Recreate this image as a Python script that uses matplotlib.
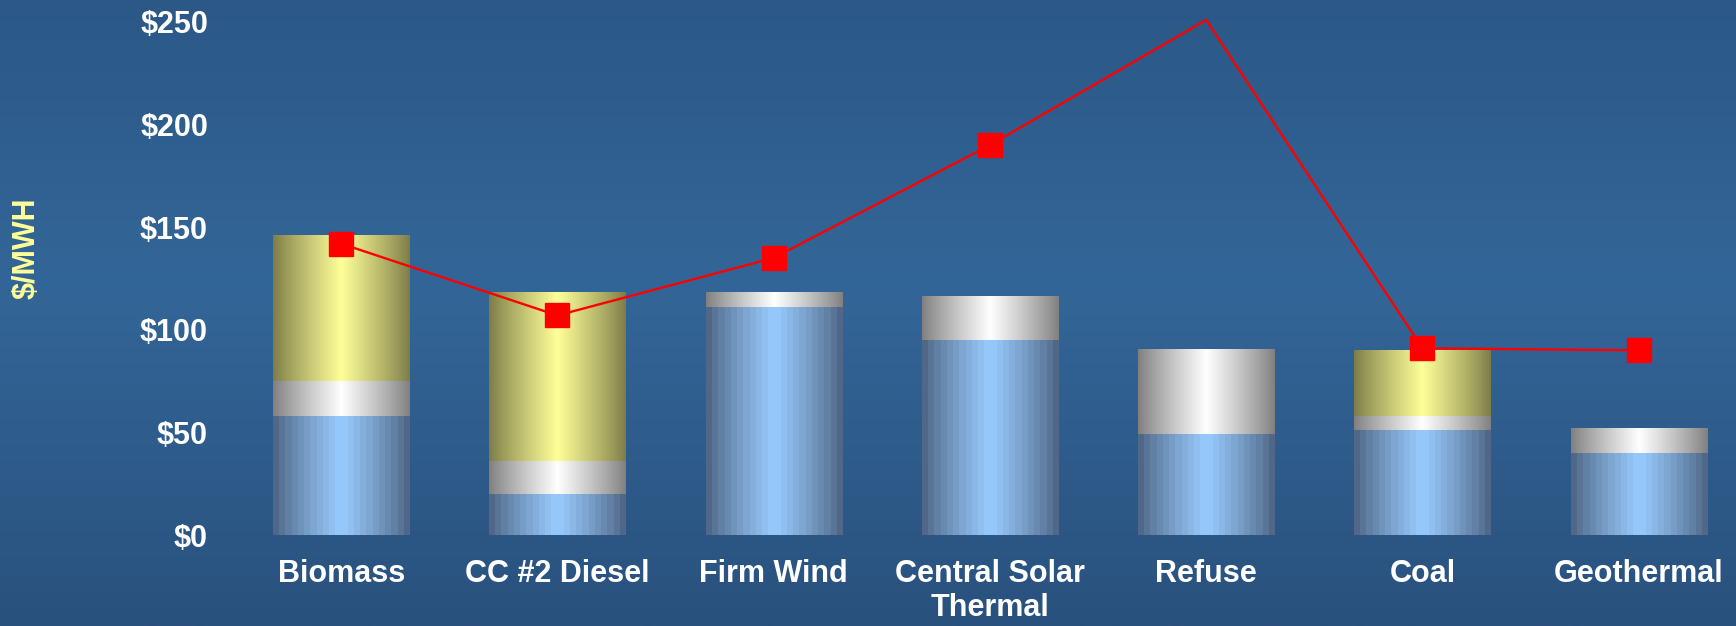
import numpy as np
import matplotlib
matplotlib.use('Agg')
import matplotlib.pyplot as plt

# ---- data ----
categories = ['Biomass', 'CC #2 Diesel', 'Firm Wind', 'Central Solar\nThermal',
              'Refuse', 'Coal', 'Geothermal']
blue_vals = [58, 20, 111, 95, 49, 51, 40]
white_vals = [17, 16, 7, 21, 41, 7, 12]
yellow_vals = [71, 82, 0, 0, 0, 32, 0]
line_vals = [142, 107, 135, 190, 251, 91, 90]
yticks = [0, 50, 100, 150, 200, 250]
ytick_labels = ['\\$0', '\\$50', '\\$100', '\\$150', '\\$200', '\\$250']
ylabel = '\\$/MWH'

W, H = 1736, 626
fig = plt.figure(figsize=(W / 100, H / 100), dpi=100)

# background gradient
bg = fig.add_axes([0, 0, 1, 1], zorder=0)
yy = np.linspace(0, 1, 300)
top_c = np.array([43, 88, 135]) / 255
mid_c = np.array([51, 102, 152]) / 255
bot_c = np.array([41, 81, 126]) / 255
cols = np.where(yy[:, None] < 0.45,
                top_c + (mid_c - top_c) * (yy[:, None] / 0.45),
                mid_c + (bot_c - mid_c) * ((yy[:, None] - 0.45) / 0.55))
bg.imshow(cols[:, None, :], aspect='auto', extent=(0, 1, 0, 1))
bg.set_axis_off()

left_px, bottom_px = 233, 626 - 535
width_px, height_px = 1503, 513
ax = fig.add_axes([left_px / W, bottom_px / H, width_px / W, height_px / H], zorder=1)
ax.patch.set_alpha(0)


def hgrad(edge, center, peak=0.5, steps=None, power=1.0, n=136):
    if steps:
        u = (np.arange(steps) + 0.5) / steps
    else:
        u = np.linspace(0, 1, n)
    d = np.where(u < peak, (peak - u) / peak, (u - peak) / (1 - peak))
    t = np.clip(1 - d, 0, 1) ** power
    e = np.array(edge) / 255
    c = np.array(center) / 255
    img = e + (c - e) * t[:, None]
    return img[None, :, :]


blue_img = hgrad((74, 94, 124), (153, 204, 255), steps=22, power=0.8)
white_img = hgrad((128, 128, 128), (255, 255, 255), power=0.9)
yellow_img = hgrad((125, 125, 72), (255, 255, 153), power=0.9)

bw = 0.63
x = np.arange(len(categories))
for i in range(len(categories)):
    b0 = 0
    for val, img, interp in ((blue_vals[i], blue_img, 'nearest'),
                             (white_vals[i], white_img, 'bilinear'),
                             (yellow_vals[i], yellow_img, 'bilinear')):
        if val > 0:
            ax.imshow(img, extent=(x[i] - bw / 2, x[i] + bw / 2, b0, b0 + val),
                      aspect='auto', interpolation=interp, zorder=2)
        b0 += val

marks = [i for i, v in enumerate(line_vals) if v <= 250]
ax.plot(x, line_vals, color='#ff0000', lw=1.7, marker='s', ms=17,
        markevery=marks, zorder=5, clip_on=False)

ax.set_xlim(-0.5, 6.45)
ax.set_ylim(0, 250)
ax.set_xticks(x)
ax.set_xticklabels(categories)
ax.set_yticks(yticks)
ax.set_yticklabels(ytick_labels)
for s in ax.spines.values():
    s.set_visible(False)
ax.tick_params(axis='both', length=0, colors='white')
ax.tick_params(axis='x', pad=17)
ax.tick_params(axis='y', pad=18)
for lab in ax.get_xticklabels() + ax.get_yticklabels():
    lab.set_fontfamily('Liberation Sans')
    lab.set_fontweight('bold')
    lab.set_fontsize(22)
    lab.set_color('white')

fig.text(27 / W, 1 - 248 / H, ylabel, rotation=90, ha='center', va='center',
         fontsize=22, fontweight='bold', color='#ffff99', family='Liberation Sans')

fig.savefig('out.png', dpi=100)
